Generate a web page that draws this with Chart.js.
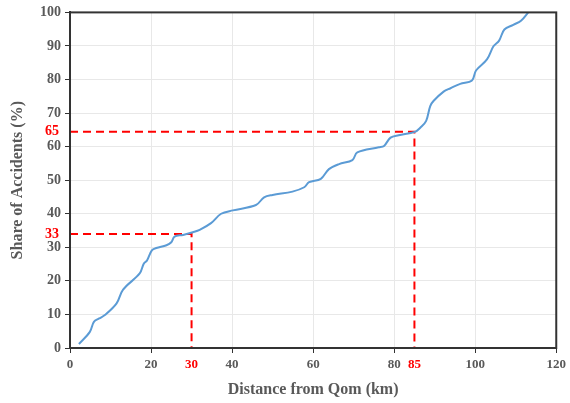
<!DOCTYPE html>
<html>
<head>
<meta charset="utf-8">
<script src="https://cdn.jsdelivr.net/npm/chart.js@4"></script>
<style>
  html, body { margin: 0; padding: 0; background: #fff; }
  #wrap { width: 570px; height: 403px; }
</style>
</head>
<body>
<div id="wrap"><canvas id="cdfChart"></canvas></div>
<script>
// cumulative share of accidents vs distance from Qom
const distKm = [2.2, 4.9, 5.9, 7.2, 8.6, 11.5, 13.1, 17.2, 18.2, 19.0, 20.2, 21.3, 23.8, 25.0, 25.8, 27.9,
    30.3, 32.0, 34.8, 37.3, 40.2, 45.9, 47.9, 50.0, 54.9, 57.8, 59.0, 61.9, 63.9, 66.4, 69.7, 70.9,
    76.2, 77.5, 79.1, 81.1, 85.1, 86.5, 87.9, 88.9, 89.7, 92.2, 93.9, 96.3, 99.2, 100.2, 102.9, 104.5,
    105.9, 107.2, 109.4, 111.3, 113.1];
const sharePct = [1.2, 4.8, 7.8, 8.8, 9.8, 13.3, 17.4, 22.2, 25.1, 26.1, 29.1, 29.8, 30.6, 31.5, 33.2, 33.7,
    34.5, 35.2, 37.2, 40.0, 41.0, 42.6, 44.9, 45.6, 46.6, 47.9, 49.4, 50.4, 53.3, 54.8, 56.0, 58.3,
    59.8, 60.2, 62.7, 63.4, 64.4, 65.7, 67.7, 72.1, 73.6, 76.4, 77.4, 78.7, 79.7, 82.7, 86.0, 89.9,
    91.6, 94.9, 96.3, 97.5, 100];

// marked thresholds (red dashed guides)
const markX = [30, 85];
const markY = [34, 64.4];
const markXLabels = ["30", "85"];
const markYLabels = ["33", "65"];

const xTicks = [0, 20, 40, 60, 80, 100, 120];
const yTicks = [0, 10, 20, 30, 40, 50, 60, 70, 80, 90, 100];

const curve = distKm.map((d, i) => ({ x: d, y: sharePct[i] }));
const guides = markX.map((mx, i) => ({
    type: "line",
    data: [{ x: 0, y: markY[i] }, { x: mx, y: markY[i] }, { x: mx, y: 0 }],
    borderColor: "#ff0000",
    borderWidth: 2,
    borderDash: [8, 5],
    pointRadius: 0,
    tension: 0,
    order: 2,
}));

const serif = "'Liberation Serif', 'DejaVu Serif', serif";
const grey = "#595959";

// frame on top/right + red labels for the guides
const extras = {
    id: "extras",
    afterDraw(chart) {
        const { ctx, chartArea: a, scales } = chart;
        ctx.save();
        ctx.strokeStyle = "#333";
        ctx.lineWidth = 2;
        ctx.strokeRect(a.left, a.top, a.right - a.left, a.bottom - a.top);
        ctx.fillStyle = "#ff0000";
        ctx.font = "bold 14px " + serif;
        ctx.textBaseline = "middle";
        ctx.textAlign = "right";
        markY.forEach((v, i) => ctx.fillText(markYLabels[i], a.left - 11, scales.y.getPixelForValue(v)));
        ctx.font = "bold 13px " + serif;
        ctx.textAlign = "center";
        markX.forEach((v, i) => ctx.fillText(markXLabels[i], scales.x.getPixelForValue(v), a.bottom + 17));
        ctx.restore();
    },
};

const ctx = document.getElementById("cdfChart").getContext("2d");
new Chart(ctx, {
    type: "scatter",
    data: {
        datasets: [{
            type: "line",
            data: curve,
            borderColor: "#5b9bd5",
            borderWidth: 2,
            pointRadius: 0,
            tension: 0.35,
            order: 1,
        }, ...guides],
    },
    options: {
        responsive: true,
        maintainAspectRatio: false,
        animation: false,
        layout: { padding: { left: 0, right: 12, top: 11, bottom: 0 } },
        plugins: { legend: { display: false }, tooltip: { enabled: false } },
        scales: {
            x: {
                type: "linear",
                min: 0,
                max: 120,
                afterBuildTicks: (s) => { s.ticks = xTicks.map(v => ({ value: v })); },
                afterFit: (s) => { s.height = 55; },
                grid: { color: "#e8e8e8", tickColor: "#333", tickLength: 5 },
                border: { color: "#333", width: 2 },
                ticks: { color: grey, font: { family: serif, size: 13, weight: "bold" }, padding: 4, maxRotation: 0 },
                title: { display: true, text: "Distance from Qom (km)", color: grey,
                    font: { family: serif, size: 16, weight: "bold" }, padding: { top: 4, bottom: 4 } },
            },
            y: {
                type: "linear",
                min: 0,
                max: 100,
                afterBuildTicks: (s) => { s.ticks = yTicks.map(v => ({ value: v })); },
                afterFit: (s) => { s.width = 70; },
                grid: { color: "#e8e8e8", tickColor: "#333", tickLength: 5 },
                border: { color: "#333", width: 2 },
                ticks: { color: grey, font: { family: serif, size: 14, weight: "bold" }, padding: 4 },
                title: { display: true, text: "Share of Accidents (%)", color: grey,
                    font: { family: serif, size: 16, weight: "bold" }, padding: { top: 8, bottom: 4 } },
            },
        },
    },
    plugins: [extras],
});
</script>
</body>
</html>
